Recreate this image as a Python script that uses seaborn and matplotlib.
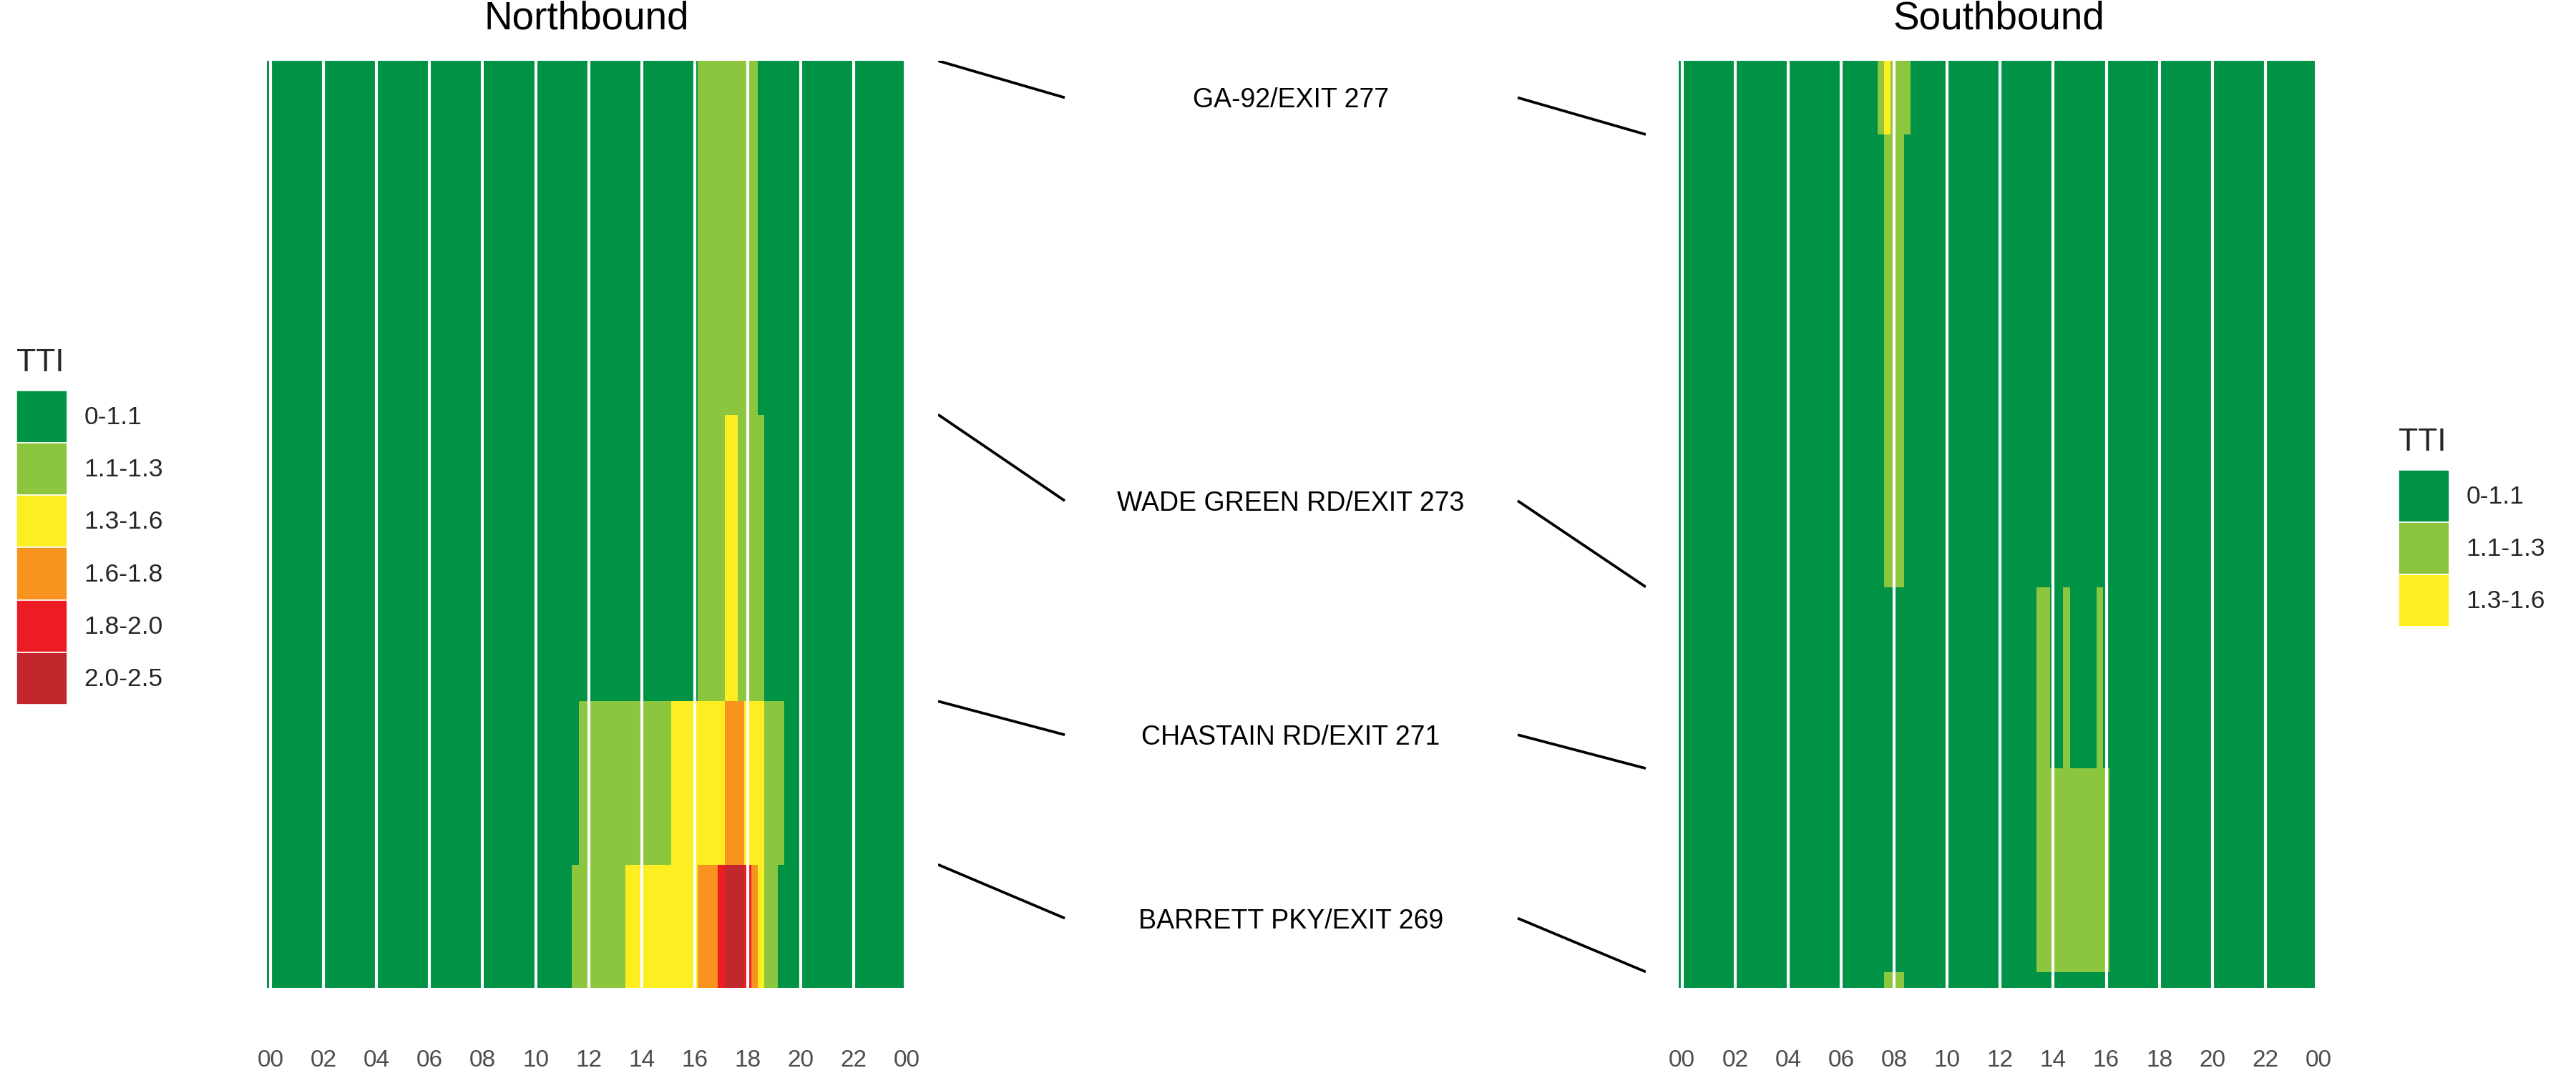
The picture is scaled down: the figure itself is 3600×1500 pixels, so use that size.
import matplotlib
matplotlib.use("Agg")
import matplotlib.pyplot as plt
from matplotlib.colors import ListedColormap
from matplotlib.patches import Patch
import numpy as np
import pandas as pd
import seaborn as sns

sns.set_theme(style="white")
plt.rcParams["font.family"] = ["Liberation Sans", "DejaVu Sans"]

# TTI classes
tti_labels = ["0-1.1", "1.1-1.3", "1.3-1.6", "1.6-1.8", "1.8-2.0", "2.0-2.5"]
tti_colors = ["#009245", "#8CC63F", "#FCEE21", "#F7931E", "#ED1C24", "#C1272D"]

# 15 minute bins over the day
time_bins = [f"{h:02d}:{m:02d}" for h in range(24) for m in (0, 15, 30, 45)]
hour_ticks = list(range(0, 25, 2))
hour_labels = ["00", "02", "04", "06", "08", "10", "12", "14", "16", "18", "20", "22", "00"]

exits = ["GA-92/EXIT 277", "WADE GREEN RD/EXIT 273", "CHASTAIN RD/EXIT 271", "BARRETT PKY/EXIT 269"]

# segment edges, miles from the north end of the corridor
nb_edges = [0.0, 3.53, 6.39, 8.02, 9.25]
sb_edges = [0.0, 0.735, 5.25, 7.06, 9.09, 9.25]
nb_exit_mi = [0.0, 3.53, 6.39, 8.02]
sb_exit_mi = [0.735, 5.25, 7.06, 9.09]

# (first bin, last bin, tti class) per segment, top to bottom; the rest is class 0
nb_runs = [
    [("16:15", "18:15", 1)],
    [("16:15", "18:30", 1), ("17:15", "17:30", 2)],
    [("11:45", "15:00", 1), ("15:15", "17:00", 2), ("17:15", "17:45", 3),
     ("18:00", "18:30", 2), ("18:45", "19:15", 1)],
    [("11:30", "13:15", 1), ("13:30", "16:00", 2), ("16:15", "16:45", 3),
     ("17:00", "17:00", 4), ("17:15", "17:45", 5), ("18:00", "18:00", 4),
     ("18:15", "18:15", 3), ("18:30", "18:30", 2), ("18:45", "19:00", 1)],
]
sb_runs = [
    [("07:30", "08:30", 1), ("07:45", "07:45", 2)],
    [("07:45", "08:15", 1)],
    [("13:30", "13:45", 1), ("14:30", "14:30", 1), ("15:45", "15:45", 1)],
    [("13:30", "16:00", 1)],
    [("07:45", "08:15", 1)],
]

bin_hours = np.array([int(t[:2]) + int(t[3:]) / 60 for t in time_bins])
x_edges = np.append(bin_hours - 0.125, bin_hours[-1] + 0.125)
tti_cmap = ListedColormap(tti_colors)


def segment_frame(runs, edges):
    rows = []
    for seg, seg_runs in enumerate(runs):
        levels = np.zeros(len(time_bins), dtype=int)
        for first, last, level in seg_runs:
            levels[time_bins.index(first):time_bins.index(last) + 1] = level
        mid = (edges[seg] + edges[seg + 1]) / 2
        for h, lv in zip(bin_hours, levels):
            rows.append({"hour": h, "mile": mid, "tti": lv + 1})
    return pd.DataFrame(rows)


def draw_panel(ax, runs, edges, title):
    df = segment_frame(runs, edges)
    sns.histplot(data=df, x="hour", y="mile", weights="tti",
                 bins=(x_edges, np.array(edges)), cmap=tti_cmap,
                 vmin=0.5, vmax=len(tti_colors) + 0.5, cbar=False, ax=ax)
    for h in hour_ticks:
        ax.axvline(h, color="white", lw=3)
    ax.set_xlim(-0.135, 24.01)
    ax.set_ylim(edges[-1], edges[0])
    ax.set(xlabel="", ylabel="")
    ax.set_xticks(hour_ticks)
    ax.set_xticklabels(hour_labels)
    ax.set_yticks([])
    ax.tick_params(axis="x", length=0, pad=62, labelsize=24, labelcolor="#4D4D4D")
    sns.despine(ax=ax, left=True, bottom=True)
    ax.set_title(title, fontsize=39.5, pad=32, color="black")


W, H = 3600, 1500
fig = plt.figure(figsize=(36, 15), dpi=100)
ax_nb = fig.add_axes([373 / W, 119 / H, 894.6 / W, 1296 / H])
ax_sb = fig.add_axes([2345.7 / W, 119 / H, 894.6 / W, 1296 / H])
ax_mid = fig.add_axes([1311 / W, 119 / H, 989 / W, 1296 / H])

draw_panel(ax_nb, nb_runs, nb_edges, "Northbound")
draw_panel(ax_sb, sb_runs, sb_edges, "Southbound")

# exit labels with connectors to both directions
ax_mid.set_xlim(0, 1)
ax_mid.set_ylim(nb_edges[-1], 0)
ax_mid.axis("off")
for name, nb_y, sb_y in zip(exits, nb_exit_mi, sb_exit_mi):
    mid_y = (nb_y + sb_y) / 2
    ax_mid.plot([0, 0.179], [nb_y, mid_y], color="black", lw=2.7, solid_capstyle="butt")
    ax_mid.plot([0.819, 1.0], [mid_y, sb_y], color="black", lw=2.7, solid_capstyle="butt")
    ax_mid.text(0.4985, mid_y, name, ha="center", va="center_baseline", fontsize=27, color="black")


def add_legend(n, x_px, title_base_px, keys_top_px):
    handles = [Patch(facecolor=c, edgecolor="white", linewidth=1.2) for c in tti_colors[:n]]
    fig.text(x_px / W, 1 - title_base_px / H, "TTI", fontsize=32, va="baseline", ha="left")
    fig.legend(handles, tti_labels[:n], loc="upper left",
               bbox_to_anchor=(x_px / W, 1 - keys_top_px / H),
               frameon=False, fontsize=25.5, handlelength=2.0, handleheight=2.8,
               labelspacing=0, handletextpad=0.66, borderpad=0, borderaxespad=0)


add_legend(6, 23, 519, 546)
add_legend(3, 3352, 630, 657)

fig.savefig("out.png", dpi=100)
